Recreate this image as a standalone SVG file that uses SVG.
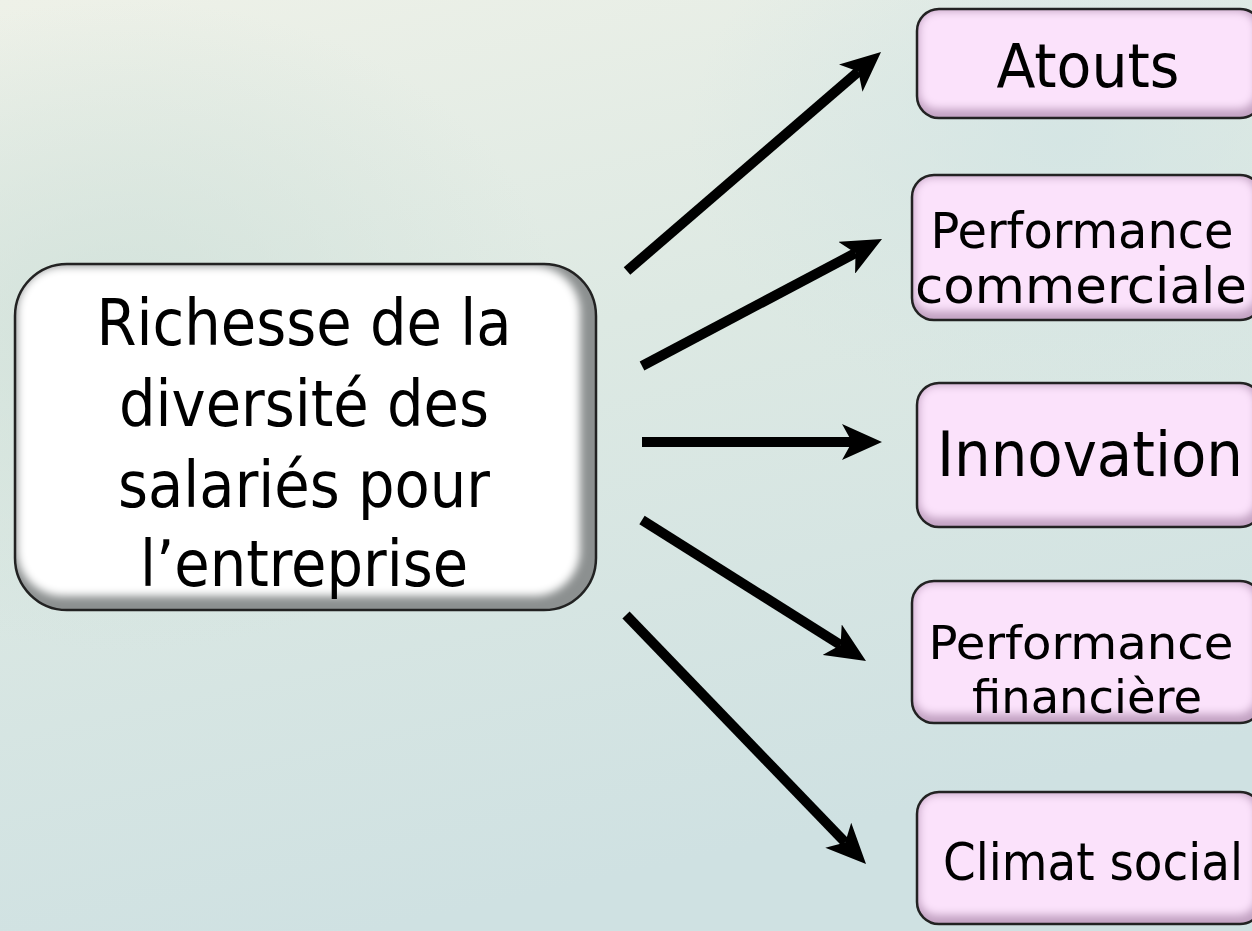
<svg xmlns="http://www.w3.org/2000/svg" width="1252" height="931" viewBox="0 0 1252 931">
<defs>
<linearGradient id="bg" x1="0" y1="0" x2="0.3" y2="1">
<stop offset="0" stop-color="#EEF1E8"/>
<stop offset="0.45" stop-color="#DDE9E3"/>
<stop offset="1" stop-color="#CFE1E2"/>
</linearGradient>
<radialGradient id="blob1" cx="0.1" cy="0.35" r="0.35">
<stop offset="0" stop-color="#CFE0D9" stop-opacity="0.8"/>
<stop offset="1" stop-color="#CFE0D9" stop-opacity="0"/>
</radialGradient>
<radialGradient id="blob2" cx="0.85" cy="0.15" r="0.3">
<stop offset="0" stop-color="#D2E4E4" stop-opacity="0.8"/>
<stop offset="1" stop-color="#D2E4E4" stop-opacity="0"/>
</radialGradient>
<filter id="soft" x="-10%" y="-10%" width="120%" height="120%">
<feGaussianBlur stdDeviation="4"/>
</filter>
<marker id="ah" viewBox="0 0 40 36" refX="10" refY="18" markerWidth="40" markerHeight="36" markerUnits="userSpaceOnUse" orient="auto">
<path d="M0,0 L40,18 L0,36 L10,18 z" fill="#000"/>
</marker>
<clipPath id="cMain"><rect x="15" y="264" width="581" height="346" rx="52"/></clipPath>
<clipPath id="c1"><rect x="917" y="9" width="345" height="109" rx="22"/></clipPath>
<clipPath id="c2"><rect x="912" y="175" width="350" height="145" rx="22"/></clipPath>
<clipPath id="c3"><rect x="917" y="383" width="345" height="144" rx="22"/></clipPath>
<clipPath id="c4"><rect x="912" y="581" width="350" height="142" rx="22"/></clipPath>
<clipPath id="c5"><rect x="917" y="792" width="345" height="132" rx="22"/></clipPath>
</defs>
<style>
.txt{font-family:"DejaVu Sans Condensed","DejaVu Sans",sans-serif;font-stretch:condensed;fill:#000;text-anchor:middle}
.edge{fill:none;stroke:#222;stroke-width:2.5}
.pinkbase{fill:#C2A2C2}
.pinkin{fill:#FBE2FB}
.whitebase{fill:#8C9090}
.whitein{fill:#FFFFFF}
.conn{stroke:#000;stroke-width:10;fill:none;marker-end:url(#ah)}
</style>
<rect width="1252" height="931" fill="url(#bg)"/>
<rect width="1252" height="931" fill="url(#blob1)"/>
<rect width="1252" height="931" fill="url(#blob2)"/>

<g id="connectors">
<line class="conn" x1="627" y1="271" x2="858.3" y2="71.6"/>
<line class="conn" x1="642" y1="366" x2="855.5" y2="253"/>
<line class="conn" x1="642" y1="442" x2="852" y2="442"/>
<line class="conn" x1="642" y1="520" x2="840.6" y2="645"/>
<line class="conn" x1="626" y1="615" x2="845.2" y2="842.4"/>
</g>

<g id="node-main">
<g clip-path="url(#cMain)">
<rect class="whitebase" x="15" y="264" width="581" height="346"/>
<rect class="whitein" x="17" y="266" width="563" height="330" rx="46" filter="url(#soft)"/>
</g>
<rect class="edge" x="15" y="264" width="581" height="346" rx="52"/>
<text class="txt" font-size="64" x="304" y="345">Richesse de la</text>
<text class="txt" font-size="64" x="304" y="426">diversité des</text>
<text class="txt" font-size="64" x="304" y="507">salariés pour</text>
<text class="txt" font-size="64" x="304" y="586">l’entreprise</text>
</g>

<g id="node-atouts">
<g clip-path="url(#c1)">
<rect class="pinkbase" x="917" y="9" width="345" height="109"/>
<rect class="pinkin" x="919" y="11" width="337" height="98" rx="18" filter="url(#soft)"/>
</g>
<rect class="edge" x="917" y="9" width="345" height="109" rx="22"/>
<text class="txt" font-size="60" x="1088" y="87" textLength="183" lengthAdjust="spacingAndGlyphs">Atouts</text>
</g>

<g id="node-perf-commerciale">
<g clip-path="url(#c2)">
<rect class="pinkbase" x="912" y="175" width="350" height="145"/>
<rect class="pinkin" x="914" y="177" width="342" height="134" rx="18" filter="url(#soft)"/>
</g>
<rect class="edge" x="912" y="175" width="350" height="145" rx="22"/>
<text class="txt" font-size="49" x="1082" y="248" textLength="303" lengthAdjust="spacingAndGlyphs">Performance</text>
<text class="txt" font-size="49" x="1081" y="303" textLength="332" lengthAdjust="spacingAndGlyphs">commerciale</text>
</g>

<g id="node-innovation">
<g clip-path="url(#c3)">
<rect class="pinkbase" x="917" y="383" width="345" height="144"/>
<rect class="pinkin" x="919" y="385" width="337" height="133" rx="18" filter="url(#soft)"/>
</g>
<rect class="edge" x="917" y="383" width="345" height="144" rx="22"/>
<text class="txt" font-size="62" x="1090" y="476" textLength="306" lengthAdjust="spacingAndGlyphs">Innovation</text>
</g>

<g id="node-perf-financiere">
<g clip-path="url(#c4)">
<rect class="pinkbase" x="912" y="581" width="350" height="142"/>
<rect class="pinkin" x="914" y="583" width="342" height="131" rx="18" filter="url(#soft)"/>
</g>
<rect class="edge" x="912" y="581" width="350" height="142" rx="22"/>
<text class="txt" font-size="47" x="1081" y="659" textLength="305" lengthAdjust="spacingAndGlyphs">Performance</text>
<text class="txt" font-size="47" x="1087" y="713" textLength="230" lengthAdjust="spacingAndGlyphs">financière</text>
</g>

<g id="node-climat">
<g clip-path="url(#c5)">
<rect class="pinkbase" x="917" y="792" width="345" height="132"/>
<rect class="pinkin" x="919" y="794" width="337" height="121" rx="18" filter="url(#soft)"/>
</g>
<rect class="edge" x="917" y="792" width="345" height="132" rx="22"/>
<text class="txt" font-size="52" x="1093" y="880" textLength="300" lengthAdjust="spacingAndGlyphs">Climat social</text>
</g>
</svg>
